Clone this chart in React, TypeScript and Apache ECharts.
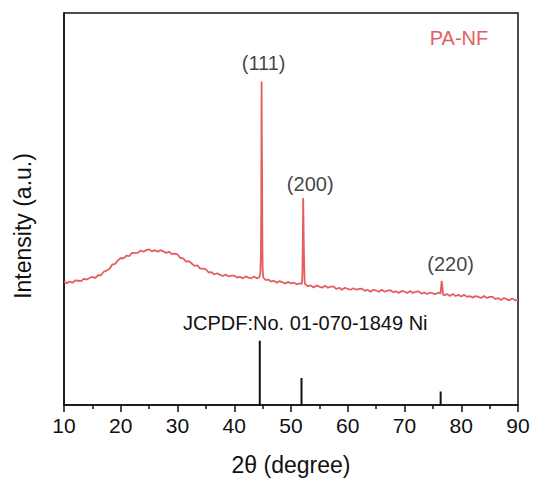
import React, { useEffect, useRef } from 'react';
import * as echarts from 'echarts';

// 2θ range and tick spacing of the scan
const angleMin = 10;
const angleMax = 90;
const angleStep = 10;

// PA-NF diffraction scan: [2θ (deg), intensity (a.u.)]
const scan: [number, number][] = [
  [10.0, 31.5], [10.5, 31.1], [11.0, 31.5], [11.5, 31.2], [12.0, 31.8], [12.5, 31.7], [13.0, 31.6], [13.5, 32.2], [14.0, 32.0], [14.5, 32.4],
  [15.0, 32.7], [15.5, 32.4], [16.0, 33.1], [16.5, 33.1], [17.0, 34.0], [17.5, 34.3], [18.0, 34.7], [18.5, 35.8], [19.0, 36.0], [19.5, 36.9],
  [20.0, 37.5], [20.5, 37.4], [21.0, 38.1], [21.5, 38.0], [22.0, 38.8], [22.5, 38.8], [23.0, 38.8], [23.5, 39.4], [24.0, 39.1], [24.5, 39.5],
  [25.0, 39.7], [25.5, 39.2], [26.0, 39.5], [26.5, 39.1], [27.0, 39.5], [27.5, 39.2], [28.0, 38.8], [28.5, 39.1], [29.0, 38.5], [29.5, 38.6],
  [30.0, 38.4], [30.5, 37.5], [31.0, 37.4], [31.5, 36.6], [32.0, 36.7], [32.5, 36.1], [33.0, 35.5], [33.5, 35.6], [34.0, 34.8], [34.5, 34.8],
  [35.0, 34.6], [35.5, 33.8], [36.0, 33.9], [36.5, 33.3], [37.0, 33.6], [37.5, 33.2], [38.0, 32.9], [38.5, 33.3], [39.0, 32.8], [39.5, 33.0],
  [40.0, 33.0], [40.5, 32.5], [41.0, 32.7], [41.5, 32.3], [42.0, 32.8], [42.5, 32.5], [43.0, 32.3], [43.5, 32.8], [44.0, 32.3], [44.4, 32.6],
  [44.6, 33.5], [44.7, 39.0], [44.76, 52.0], [44.82, 82.5], [44.86, 68.0], [44.9, 60.0], [44.95, 42.0], [45.0, 35.0], [45.1, 32.6],
  [45.5, 31.9], [46.0, 32.0], [46.5, 31.5], [47.0, 31.7], [47.5, 31.2], [48.0, 31.6], [48.5, 31.3], [49.0, 31.0], [49.5, 31.4], [50.0, 31.0],
  [50.5, 31.2], [51.0, 30.8], [51.5, 31.0], [51.9, 30.9],
  [52.0, 33.0], [52.08, 42.0], [52.15, 52.8], [52.2, 47.0], [52.25, 41.7], [52.32, 36.0], [52.4, 31.5],
  [52.5, 30.8], [53.0, 30.3], [53.5, 30.5], [54.0, 30.0], [54.5, 30.5], [55.0, 30.2], [55.5, 29.9], [56.0, 30.4], [56.5, 29.9], [57.0, 30.2],
  [57.5, 30.2], [58.0, 29.6], [58.5, 29.9], [59.0, 29.4], [59.5, 29.9], [60.0, 29.6],
  [60.5, 29.4], [61.0, 29.8], [61.5, 29.4], [62.0, 29.6], [62.5, 29.7], [63.0, 29.1], [63.5, 29.4], [64.0, 28.9], [64.5, 29.4], [65.0, 29.2],
  [65.5, 28.9], [66.0, 29.4], [66.5, 28.9], [67.0, 29.2], [67.5, 29.3], [68.0, 28.8], [68.5, 29.0], [69.0, 28.6], [69.5, 29.1], [70.0, 28.9],
  [70.5, 28.6], [71.0, 29.1], [71.5, 28.6], [72.0, 28.9], [72.5, 29.0], [73.0, 28.4], [73.5, 28.7], [74.0, 28.3], [74.5, 28.7], [75.0, 28.5],
  [75.5, 28.3], [76.0, 28.7], [76.35, 28.4], [76.45, 30.0], [76.55, 31.7], [76.65, 30.5], [76.8, 28.2],
  [77.0, 28.0], [77.5, 28.3], [78.0, 27.8], [78.5, 28.3], [79.0, 27.8], [79.5, 28.1], [80.0, 27.7],
  [80.5, 28.1], [81.0, 27.6], [81.5, 27.8], [82.0, 27.4], [82.5, 27.8], [83.0, 27.6], [83.5, 27.3], [84.0, 27.8], [84.5, 27.3], [85.0, 27.6],
  [85.5, 27.6], [86.0, 27.0], [86.5, 27.3], [87.0, 26.8], [87.5, 27.3], [88.0, 27.0], [88.5, 26.7], [89.0, 27.2], [89.5, 26.7], [90.0, 26.8],
];

// Indexed reflections of the scan
const peakNames = ['(111)', '(200)', '(220)'];
const peakAngles = [44.82, 52.15, 76.55];
const peakHeights = [82.5, 52.8, 31.7];

// Reference card JCPDF No. 01-070-1849 (Ni): positions and relative intensities
const refAngles = [44.5, 51.85, 76.37];
const refIntensities = [100, 42, 21];

const sampleName = 'PA-NF';
const refCardLabel = 'JCPDF:No. 01-070-1849 Ni';
const xAxisTitle = '2θ (degree)';
const yAxisTitle = 'Intensity (a.u.)';

const FONT = '"Liberation Sans", Arial, sans-serif';
const RED = '#E35F5F';

export default function App() {
  const ref = useRef<HTMLDivElement>(null);

  useEffect(() => {
    if (!ref.current) return;
    const chart = echarts.init(ref.current, null, { renderer: 'svg' });

    const labelOffsets: [number, number][] = [[2, -9], [7, -4], [9, -7]];

    chart.setOption({
      animation: false,
      backgroundColor: '#fff',
      textStyle: { fontFamily: FONT },
      grid: {
        left: 64,
        right: 15,
        top: 13,
        bottom: 77,
        show: true,
        borderColor: '#111',
        borderWidth: 1.5,
        backgroundColor: 'transparent',
      },
      xAxis: {
        type: 'value',
        min: angleMin,
        max: angleMax,
        interval: angleStep,
        axisLine: { show: true, onZero: false, lineStyle: { color: '#111', width: 1.5 } },
        axisTick: { show: true, inside: false, length: 7, lineStyle: { color: '#111', width: 1.5 } },
        minorTick: { show: true, splitNumber: 2, length: 4, lineStyle: { color: '#111', width: 1.5 } },
        splitLine: { show: false },
        axisLabel: { color: '#111', fontSize: 21, fontFamily: FONT, margin: 10 },
        name: xAxisTitle,
        nameLocation: 'middle',
        nameGap: 48,
        nameTextStyle: { color: '#111', fontSize: 23, fontFamily: FONT, verticalAlign: 'top' },
      },
      yAxis: [
        {
          type: 'value',
          min: 0,
          max: 100,
          axisLine: { show: true, lineStyle: { color: '#111', width: 1.5 } },
          axisTick: { show: false },
          axisLabel: { show: false },
          splitLine: { show: false },
        },
        {
          type: 'value',
          min: 0,
          max: 610,
          show: false,
          splitLine: { show: false },
        },
      ],
      series: [
        {
          type: 'line',
          data: scan,
          showSymbol: false,
          symbol: 'none',
          lineStyle: { color: RED, width: 1.8 },
          z: 3,
        },
        {
          type: 'bar',
          yAxisIndex: 1,
          barWidth: 2,
          data: refAngles.map((a, i) => [a, refIntensities[i]]),
          itemStyle: { color: '#111' },
          z: 2,
        },
        {
          type: 'scatter',
          symbolSize: 0,
          silent: true,
          data: peakAngles.map((a, i) => ({
            value: [a, peakHeights[i]],
            name: peakNames[i],
            label: { offset: labelOffsets[i] },
          })),
          label: {
            show: true,
            position: 'top',
            distance: 0,
            formatter: (p: any) => p.name,
            color: '#111',
            fontSize: 20,
            fontFamily: FONT,
          },
          z: 4,
        },
      ],
      graphic: [
        {
          type: 'text',
          x: 459,
          y: 38,
          style: {
            text: sampleName,
            fill: RED,
            fontSize: 20,
            fontFamily: FONT,
            textAlign: 'center',
            textVerticalAlign: 'middle',
            align: 'center',
            verticalAlign: 'middle',
          },
        },
        {
          type: 'text',
          x: 183,
          y: 323,
          style: {
            text: refCardLabel,
            fill: '#111',
            fontSize: 20,
            fontFamily: FONT,
            textAlign: 'left',
            textVerticalAlign: 'middle',
            align: 'left',
            verticalAlign: 'middle',
          },
        },
        {
          type: 'text',
          x: 23,
          y: 226,
          rotation: Math.PI / 2,
          style: {
            text: yAxisTitle,
            fill: '#111',
            fontSize: 23,
            fontFamily: FONT,
            textAlign: 'center',
            textVerticalAlign: 'middle',
            align: 'center',
            verticalAlign: 'middle',
          },
        },
      ],
    });

    return () => chart.dispose();
  }, []);

  return (
    <div
      ref={ref}
      style={{ position: 'fixed', left: 0, top: 0, width: 533, height: 482, background: '#fff' }}
    />
  );
}
